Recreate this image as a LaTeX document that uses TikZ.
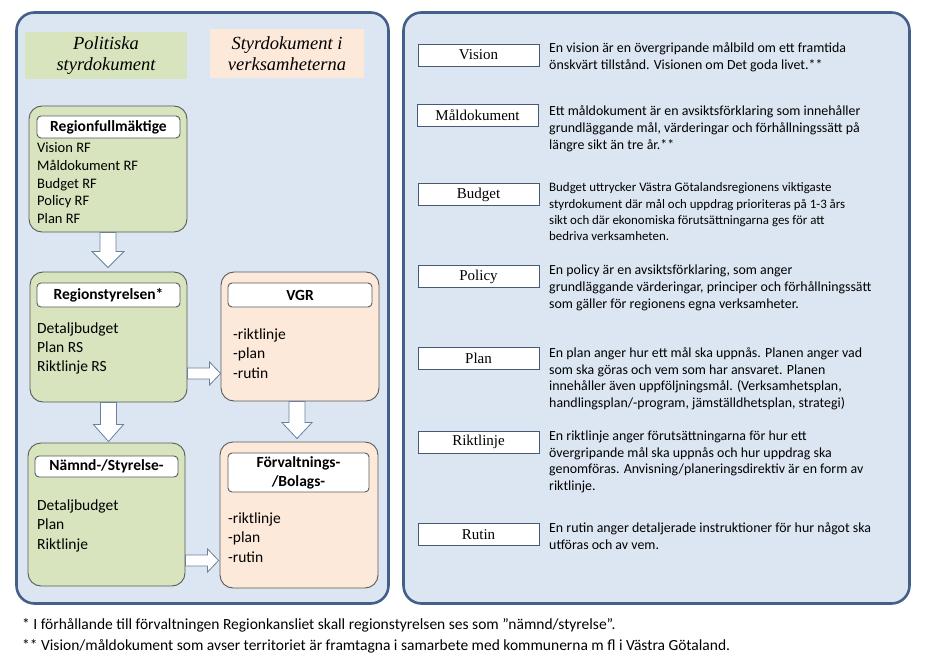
\documentclass[tikz,border=0pt]{standalone}
\usepackage{fontspec}
\setmainfont{Carlito}
\newfontfamily\serifit{Liberation Serif}
\usetikzlibrary{calc}
\definecolor{panelfill}{HTML}{DCE6F2}
\definecolor{panelline}{RGB}{66,96,136}
\definecolor{grn}{HTML}{D7E4BD}
\definecolor{pch}{HTML}{FDE9D9}
\definecolor{boxline}{RGB}{90,90,90}
\definecolor{arrline}{RGB}{105,128,160}
\definecolor{termline}{RGB}{70,90,118}
\tikzset{
  panel/.style={draw=panelline, line width=2.6pt, fill=panelfill, rounded corners=18pt},
  gbox/.style={draw=boxline, line width=0.9pt, fill=grn, rounded corners=13pt},
  pbox/.style={draw=boxline, line width=0.9pt, fill=pch, rounded corners=13pt},
  tbox/.style={draw=boxline, line width=0.9pt, fill=white, rounded corners=4pt, inner sep=0pt,
    font=\fontsize{15.5}{17}\selectfont\bfseries, align=center},
  hdr/.style={inner sep=0pt, align=center, font=\serifit\itshape\fontsize{18.5}{21.5}\selectfont},
  txtA/.style={inner sep=0pt, anchor=base west, font=\fontsize{14.5}{17}\selectfont},
  txtB/.style={inner sep=0pt, anchor=base west, font=\fontsize{15.5}{18}\selectfont},
  term/.style={draw=termline, line width=0.9pt, fill=white, minimum width=121pt, minimum height=22pt,
    inner sep=0pt, font=\serifit\fontsize{15}{17}\selectfont},
  dtxt/.style={inner sep=0pt, anchor=base west, font=\fontsize{13.9}{16}\selectfont},
  btxt/.style={inner sep=0pt, anchor=base west, font=\fontsize{12.9}{15}\selectfont},
  ftxt/.style={inner sep=0pt, anchor=base west, font=\fontsize{15.5}{17}\selectfont},
  blockarrow/.style={draw=arrline, line width=0.8pt, fill=white, line join=miter},
}
\newcommand\desclines[5]{% name, style, first baseline, spacing, lines
  \foreach \dline [count=\i] in {#5}
    \node[#2] (#1-\i) at ({549},{#3+#4*(\i-1)}) {\dline};
}
\begin{document}
\begin{tikzpicture}[x=1pt,y=-1pt]
\useasboundingbox (0,0) rectangle (931,655);

% panels
\node[panel, minimum width=372pt, minimum height=591pt] (lp) at (202.5,308) {};
\node[panel, minimum width=506pt, minimum height=591pt] (rp) at (656.5,308) {};

% headers
\node[hdr, fill=grn, minimum width=162pt, minimum height=47pt] (h1) at (106,55.5) {Politiska\\styrdokument};
\node[hdr, fill=pch, minimum width=154pt, minimum height=49pt] (h2) at (287,53.5) {Styrdokument i\\verksamheterna};

% green / peach boxes
\node[gbox, minimum width=158pt, minimum height=126pt] (rf) at (108,169) {};
\node[gbox, minimum width=157pt, minimum height=130pt] (rs) at (108.5,337) {};
\node[gbox, minimum width=157pt, minimum height=143pt] (nm) at (106.5,514.5) {};
\node[pbox, minimum width=158pt, minimum height=129pt] (vgr) at (300,336.5) {};
\node[pbox, minimum width=158pt, minimum height=146pt] (fb) at (299,515) {};

% title boxes
\node[tbox, minimum width=143pt, minimum height=22pt] (rft) at (108.5,127) {Regionfullmäktige};
\node[tbox, minimum width=143pt, minimum height=24pt] (rst) at (108.5,295) {Regionstyrelsen*};
\node[tbox, minimum width=144pt, minimum height=24pt] (vgrt) at (300,295) {VGR};
\node[tbox, minimum width=143pt, minimum height=21pt] (nmt) at (106.5,466.5) {Nämnd-/Styrelse-};
\node[tbox, minimum width=141pt, minimum height=39pt, font=\fontsize{15.5}{19}\selectfont\bfseries] (fbt) at (298.5,472.5) {Förvaltnings-\\/Bolags-};

% box texts
\foreach \t [count=\i] in {Vision RF, Måldokument RF, Budget RF, Policy RF, Plan RF}
  \node[txtA] (rf-\i) at ({37},{153+17.6*(\i-1)}) {\t};
\foreach \t [count=\i] in {Detaljbudget, Plan RS, Riktlinje RS}
  \node[txtB] (rs-\i) at ({37},{333.5+19*(\i-1)}) {\t};
\foreach \t [count=\i] in {-riktlinje, -plan, -rutin}
  \node[txtB] (vgr-\i) at ({233},{339+19.5*(\i-1)}) {\t};
\foreach \t [count=\i] in {Detaljbudget, Plan, Riktlinje}
  \node[txtB] (nm-\i) at ({37},{510+19.5*(\i-1)}) {\t};
\foreach \t [count=\i] in {-riktlinje, -plan, -rutin}
  \node[txtB] (fb-\i) at ({228},{523+19.5*(\i-1)}) {\t};

% block arrows
\draw[blockarrow] let \p1=(rf.south), \p2=(rs.north) in
  (\x1-8pt,\y1) -- (\x1+8pt,\y1) -- (\x1+8pt,\y2+20pt) -- (\x1+16pt,\y2+20pt) -- (\x1,\y2+4pt)
  -- (\x1-16pt,\y2+20pt) -- (\x1-8pt,\y2+20pt) -- cycle;
\draw[blockarrow] let \p1=(rs.south), \p2=(nm.north) in
  (\x1-8pt,\y1) -- (\x1+8pt,\y1) -- (\x1+8pt,\y2+18pt) -- (\x1+15pt,\y2+18pt) -- (\x1,\y2+1pt)
  -- (\x1-15pt,\y2+18pt) -- (\x1-8pt,\y2+18pt) -- cycle;
\draw[blockarrow] let \p1=($(vgr.south)+(-3,0)$), \p2=(fb.north) in
  (\x1-8pt,\y1) -- (\x1+8pt,\y1) -- (\x1+8pt,\y2+19pt) -- (\x1+15pt,\y2+19pt) -- (\x1,\y2+3pt)
  -- (\x1-15pt,\y2+19pt) -- (\x1-8pt,\y2+19pt) -- cycle;
\draw[blockarrow] let \p1=(rs.east), \p2=(vgr.west), \p3=(0,373.5) in
  (\x1,\y3+5.5pt) -- (\x2-11pt,\y3+5.5pt) -- (\x2-11pt,\y3+11.5pt) -- (\x2,\y3)
  -- (\x2-11pt,\y3-11.5pt) -- (\x2-11pt,\y3-5.5pt) -- (\x1,\y3-5.5pt) -- cycle;
\draw[blockarrow] let \p1=(nm.east), \p2=(fb.west), \p3=(0,560.5) in
  (\x1,\y3+5.5pt) -- (\x2-12pt,\y3+5.5pt) -- (\x2-12pt,\y3+11.5pt) -- (\x2-1pt,\y3)
  -- (\x2-12pt,\y3-11.5pt) -- (\x2-12pt,\y3-5.5pt) -- (\x1,\y3-5.5pt) -- cycle;

% terms
\node[term] (tvis) at (478.5,55) {Vision};
\node[term] (tmal) at (477.5,115.5) {Måldokument};
\node[term] (tbud) at (478.5,194.5) {Budget};
\node[term] (tpol) at (478.5,276.5) {Policy};
\node[term] (tpla) at (478.5,358.5) {Plan};
\node[term] (trik) at (478.5,442) {Riktlinje};
\node[term] (trut) at (478.5,534.5) {Rutin};

% descriptions
\desclines{dvis}{dtxt}{52.5}{17}{En vision är en övergripande målbild om ett framtida, önskvärt tillstånd. Visionen om Det goda livet.**}
\desclines{dmal}{dtxt}{115.5}{17}{Ett måldokument är en avsiktsförklaring som innehåller, {grundläggande mål, värderingar och förhållningssätt på}, längre sikt än tre år.**}
\desclines{dbud}{btxt}{192}{16}{Budget uttrycker Västra Götalandsregionens viktigaste, styrdokument där mål och uppdrag prioriteras på 1-3 års, sikt och där ekonomiska förutsättningarna ges för att, bedriva verksamheten.}
\desclines{dpol}{dtxt}{274.5}{17}{{En policy är en avsiktsförklaring, som anger}, {grundläggande värderingar, principer och förhållningssätt}, som gäller för regionens egna verksamheter.}
\desclines{dpla}{dtxt}{357.5}{16.7}{En plan anger hur ett mål ska uppnås. Planen anger vad, som ska göras och vem som har ansvaret. Planen, {innehåller även uppföljningsmål. (Verksamhetsplan,}, {handlingsplan/-program, jämställdhetsplan, strategi)}}
\desclines{drik}{dtxt}{440.5}{16.7}{En riktlinje anger förutsättningarna för hur ett, övergripande mål ska uppnås och hur uppdrag ska, genomföras. Anvisning/planeringsdirektiv är en form av, riktlinje.}
\desclines{drut}{dtxt}{532.5}{17}{En rutin anger detaljerade instruktioner för hur något ska, utföras och av vem.}

% footnotes
\node[ftxt] (fn1) at (22,629) {* I förhållande till förvaltningen Regionkansliet skall regionstyrelsen ses som ”nämnd/styrelse”.};
\node[ftxt] (fn2) at (22,650) {** Vision/måldokument som avser territoriet är framtagna i samarbete med kommunerna m fl i Västra Götaland.};
\end{tikzpicture}
\end{document}
